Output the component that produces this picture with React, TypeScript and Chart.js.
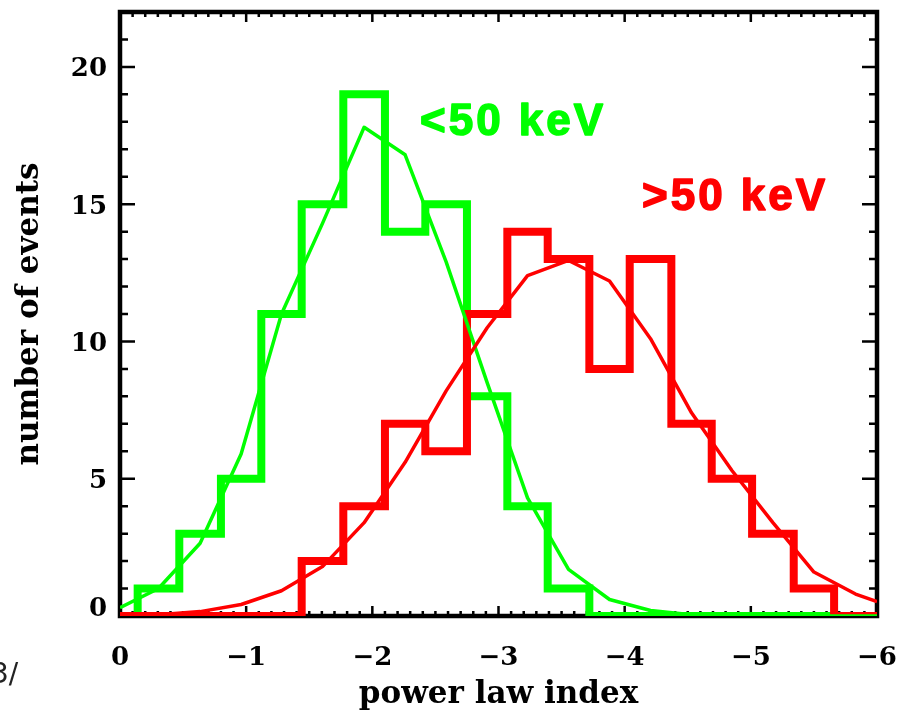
import { useEffect, useRef } from 'react';
import { Chart, registerables } from 'chart.js';

Chart.register(...registerables);

// Histogram bin edges (power law index), shared by both energy bands
const BIN_EDGES = [-0.14, -0.47, -0.8, -1.12, -1.44, -1.77, -2.1, -2.42, -2.75, -3.07, -3.39, -3.72, -4.04, -4.37, -4.69, -5.01, -5.34, -5.66];
// Event counts per bin
const LOW_COUNTS = [1, 3, 5, 11, 15, 19, 14, 15, 8, 4, 1, 0, 0, 0, 0, 0, 0];
const HIGH_COUNTS = [0, 0, 0, 0, 2, 4, 7, 6, 11, 14, 13, 9, 13, 7, 5, 3, 1];

// Fitted curves, sampled at bin centres (plus the axis ends)
const FIT_X = [0, -0.305, -0.635, -0.96, -1.28, -1.605, -1.935, -2.26, -2.585, -2.91, -3.23, -3.555, -3.88, -4.205, -4.53, -4.85, -5.175, -5.5, -5.83, -6];
const LOW_FIT = [0.3, 1.0, 2.65, 5.9, 11.0, 14.3, 17.8, 16.8, 12.9, 8.5, 4.3, 1.7, 0.6, 0.2, 0.05, 0.01, 0, 0, 0, 0];
const HIGH_FIT = [0.02, 0.05, 0.16, 0.42, 0.92, 1.8, 3.4, 5.6, 8.2, 10.5, 12.4, 12.95, 12.2, 10.1, 7.4, 5.3, 3.4, 1.6, 0.8, 0.52];

const X_TICKS = [0, -1, -2, -3, -4, -5, -6];
const Y_TICKS = [0, 5, 10, 15, 20];
const X_MIN = -6;
const X_MAX = 0;
const Y_MIN = 0;
const Y_MAX = 22;

const GREEN = '#00ff00';
const RED = '#ff0000';
const AXIS_FONT = '"DejaVu Serif", serif';

function histogramPoints(edges: number[], counts: number[]) {
  const pts = [{ x: X_MAX, y: 0 }];
  counts.forEach((c, i) => pts.push({ x: edges[i], y: c }));
  pts.push({ x: edges[edges.length - 1], y: 0 });
  pts.push({ x: X_MIN, y: 0 });
  return pts;
}

function curvePoints(xs: number[], ys: number[]) {
  return xs.map((x, i) => ({ x, y: ys[i] }));
}

const fmt = (v: number) => String(v).replace('-', '\u2212');

// IDL-style boxed axes with inward ticks, labels and annotations
const framePlugin = {
  id: 'boxFrame',
  beforeDatasetsDraw(chart: any) {
    const { ctx, chartArea } = chart;
    const { left, right, top, bottom } = chartArea;
    const xs = chart.scales.x;
    const ys = chart.scales.y;
    ctx.save();
    ctx.strokeStyle = '#000';
    ctx.lineWidth = 2.5;
    ctx.beginPath();
    for (let i = 0; i <= 60; i++) {
      const px = xs.getPixelForValue(-i / 10);
      const len = i % 10 === 0 ? 10 : 5;
      ctx.moveTo(px, bottom);
      ctx.lineTo(px, bottom - len);
      ctx.moveTo(px, top);
      ctx.lineTo(px, top + len);
    }
    for (let v = Y_MIN; v <= Y_MAX; v++) {
      const py = ys.getPixelForValue(v);
      const len = v % 5 === 0 ? 15 : 8;
      ctx.moveTo(left, py);
      ctx.lineTo(left + len, py);
      ctx.moveTo(right, py);
      ctx.lineTo(right - len, py);
    }
    ctx.stroke();
    ctx.lineWidth = 4.5;
    ctx.strokeRect(left, top, right - left, bottom - top);
    ctx.restore();
  },
  afterDraw(chart: any) {
    const { ctx, chartArea } = chart;
    const { left, right, top, bottom } = chartArea;
    const xs = chart.scales.x;
    const ys = chart.scales.y;
    ctx.save();
    ctx.fillStyle = '#000';
    ctx.font = `bold 26px ${AXIS_FONT}`;
    const half = 9.5;
    ctx.textBaseline = 'alphabetic';
    ctx.textAlign = 'right';
    Y_TICKS.forEach((v) => {
      const py = Math.min(ys.getPixelForValue(v), bottom - half);
      ctx.fillText(fmt(v), 107, py + half);
    });
    ctx.textAlign = 'center';
    X_TICKS.forEach((v) => {
      ctx.fillText(fmt(v), xs.getPixelForValue(v), 665);
    });

    ctx.font = `bold 31px ${AXIS_FONT}`;
    ctx.fillText('power law index', (left + right) / 2, 703);
    ctx.save();
    ctx.translate(38, (top + bottom) / 2);
    ctx.rotate(-Math.PI / 2);
    ctx.fillText('number of events', 0, 0);
    ctx.restore();

    // band annotations, in heavy sans
    ctx.textAlign = 'left';
    ctx.font = 'bold 44px "Liberation Sans", Arial, sans-serif';
    (ctx as any).letterSpacing = '3px';
    ctx.lineWidth = 1.5;
    ctx.lineJoin = 'round';
    ctx.fillStyle = GREEN;
    ctx.strokeStyle = GREEN;
    ctx.fillText('<50 keV', 420, 135);
    ctx.strokeText('<50 keV', 420, 135);
    ctx.fillStyle = RED;
    ctx.strokeStyle = RED;
    ctx.fillText('>50 keV', 642, 210);
    ctx.strokeText('>50 keV', 642, 210);
    (ctx as any).letterSpacing = '0px';

    ctx.fillStyle = '#222';
    ctx.font = '28px "DejaVu Sans", sans-serif';
    ctx.fillText('3/', -9, 683);
    ctx.restore();
  },
};

export default function App() {
  const canvasRef = useRef<HTMLCanvasElement | null>(null);

  useEffect(() => {
    const canvas = canvasRef.current;
    if (!canvas) return;
    const histStyle = {
      stepped: 'before' as const,
      borderWidth: 8,
      pointRadius: 0,
      fill: false,
      borderCapStyle: 'butt' as const,
      borderJoinStyle: 'miter' as const,
    };
    const fitStyle = {
      borderWidth: 3.5,
      pointRadius: 0,
      fill: false,
      tension: 0,
      borderJoinStyle: 'round' as const,
    };
    const chart = new Chart(canvas, {
      type: 'line',
      data: {
        datasets: [
          { label: '>50 keV fit', data: curvePoints(FIT_X, HIGH_FIT), borderColor: RED, order: 0, ...fitStyle },
          { label: '<50 keV fit', data: curvePoints(FIT_X, LOW_FIT), borderColor: GREEN, order: 1, ...fitStyle },
          { label: '>50 keV', data: histogramPoints(BIN_EDGES, HIGH_COUNTS), borderColor: RED, order: 2, ...histStyle },
          { label: '<50 keV', data: histogramPoints(BIN_EDGES, LOW_COUNTS), borderColor: GREEN, order: 3, ...histStyle },
        ],
      },
      options: {
        responsive: false,
        animation: false,
        events: [],
        layout: { padding: { left: 120, right: 27, top: 12, bottom: 95 } },
        scales: {
          x: { type: 'linear', min: X_MIN, max: X_MAX, reverse: true, display: false },
          y: { type: 'linear', min: Y_MIN, max: Y_MAX, display: false },
        },
        plugins: {
          legend: { display: false },
          tooltip: { enabled: false },
        },
      },
      plugins: [framePlugin],
    });
    return () => chart.destroy();
  }, []);

  return (
    <div style={{ position: 'fixed', left: 0, top: 0, width: 904, height: 711, background: '#fff' }}>
      <canvas ref={canvasRef} width={904} height={711} />
    </div>
  );
}
